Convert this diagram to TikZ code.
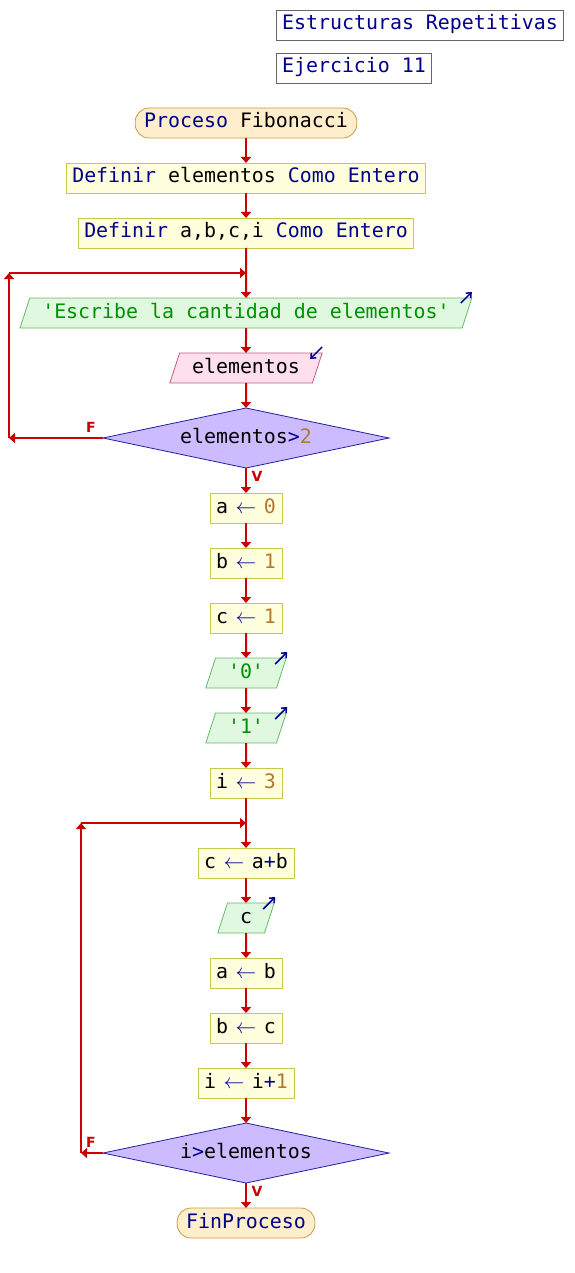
\documentclass[tikz,border=0pt]{standalone}
\usepackage{fontspec}
\setmonofont{DejaVu Sans Mono}
\setsansfont{DejaVu Sans}
\usepackage{xcolor}
\usepackage{tikz}
\usetikzlibrary{shapes.geometric, arrows.meta, positioning, calc}

\definecolor{flowred}{HTML}{CC0000}
\definecolor{kwblue}{HTML}{00008B}
\definecolor{numbrown}{HTML}{B07830}
\definecolor{strgreen}{HTML}{009000}
\definecolor{termfill}{HTML}{FFEECC}
\definecolor{termdraw}{HTML}{CC9944}
\definecolor{asgfill}{HTML}{FFFFDD}
\definecolor{asgdraw}{HTML}{C8C850}
\definecolor{outfill}{HTML}{E0F8E0}
\definecolor{outdraw}{HTML}{66BB66}
\definecolor{infill}{HTML}{FDE0EC}
\definecolor{indraw}{HTML}{C06088}
\definecolor{condfill}{HTML}{CCBBFF}
\definecolor{conddraw}{HTML}{2020A0}
\definecolor{markblue}{HTML}{000090}

\newcommand{\kw}[1]{\textcolor{kwblue}{#1}}
\newcommand{\cnum}[1]{\textcolor{numbrown}{#1}}
\newcommand{\cstr}[1]{\textcolor{strgreen}{#1}}
\newcommand{\asg}{\textcolor{kwblue}{\makebox[0.6em]{$\leftarrow$}}}

\begin{document}
\begin{tikzpicture}[
  x=1pt, y=-1pt,
  node distance = 25pt,
  base/.style   = {font=\fontsize{19.9}{22}\selectfont\ttfamily,
                   text height=15pt, text depth=5pt, inner ysep=5pt,
                   outer sep=0pt, line width=0.8pt},
  term/.style   = {base, rectangle, rounded corners=14pt,
                   draw=termdraw, fill=termfill, inner xsep=9pt},
  assign/.style = {base, rectangle, draw=asgdraw, fill=asgfill, inner xsep=6pt},
  outbox/.style = {base, trapezium, trapezium left angle=72,
                   trapezium right angle=108,
                   draw=outdraw, fill=outfill, inner xsep=12.5pt},
  inbox/.style  = {outbox, draw=indraw, fill=infill},
  cond/.style   = {base, diamond, aspect=4.77, minimum width=286pt,
                   minimum height=60pt, inner sep=0pt,
                   draw=conddraw, fill=condfill},
  title/.style  = {base, rectangle, draw=black!60, fill=white,
                   inner xsep=6pt, text=kwblue},
  flow/.style   = {-{Triangle[length=6pt,width=10pt]}, line width=2pt, flowred},
  iomark/.style = {-{Straight Barb[length=4pt,width=7pt]}, line width=1.5pt, markblue},
  flag/.style   = {font=\fontsize{14}{14}\selectfont\sffamily\bfseries, text=flowred}
]

\path[use as bounding box, fill=white] (0,0) rectangle (574,1273);

%% ---- headers ----
\node[title] (tit1) at (420,25) {Estructuras Repetitivas};
\node[title] (tit2) at (354,68) {Ejercicio 11};

%% ---- declarations ----
\node[term] (start) at (246,123) {\kw{Proceso} Fibonacci};
\node[assign, below=of start] (def1) {\kw{Definir} elementos \kw{Como} \kw{Entero}};
\node[assign, below=of def1]  (def2) {\kw{Definir} a,b,c,i \kw{Como} \kw{Entero}};

%% ---- read loop ----
\node[outbox, below=50pt of def2] (msg) {\cstr{'Escribe la cantidad de elementos'}};
\node[inbox, below=of msg]  (rd)   {elementos};
\node[cond, below=of rd]    (chk1) {elementos\kw{>}\cnum{2}};

%% ---- first terms ----
\node[assign, below=of chk1] (sa) {a \asg{} \cnum{0}};
\node[assign, below=of sa]   (sb) {b \asg{} \cnum{1}};
\node[assign, below=of sb]   (sc) {c \asg{} \cnum{1}};
\node[outbox, below=of sc]   (o0) {\cstr{'0'}};
\node[outbox, below=of o0]   (o1) {\cstr{'1'}};
\node[assign, below=of o1]   (si) {i \asg{} \cnum{3}};

%% ---- main loop ----
\node[assign, below=50pt of si] (cab) {c \asg{} a\kw{+}b};
\node[outbox, below=of cab] (oc)   {c};
\node[assign, below=of oc]  (ab)   {a \asg{} b};
\node[assign, below=of ab]  (bc)   {b \asg{} c};
\node[assign, below=of bc]  (inc)  {i \asg{} i\kw{+}\cnum{1}};
\node[cond, below=of inc]   (chk2) {i\kw{>}elementos};
\node[term, below=of chk2]  (fin)  {\kw{FinProceso}};

%% ---- straight flow ----
\draw[flow] (start) -- (def1);
\draw[flow] (def1) -- (def2);
\draw[flow] (def2) -- (msg);
\draw[flow] (msg) -- (rd);
\draw[flow] (rd) -- (chk1);
\draw[flow] (chk1) -- (sa);
\draw[flow] (sa) -- (sb);
\draw[flow] (sb) -- (sc);
\draw[flow] (sc) -- (o0);
\draw[flow] (o0) -- (o1);
\draw[flow] (o1) -- (si);
\draw[flow] (si) -- (cab);
\draw[flow] (cab) -- (oc);
\draw[flow] (oc) -- (ab);
\draw[flow] (ab) -- (bc);
\draw[flow] (bc) -- (inc);
\draw[flow] (inc) -- (chk2);
\draw[flow] (chk2) -- (fin);

%% ---- back edges ----
\coordinate (j1) at ($(def2.south)!0.5!(msg.north)$);
\coordinate (l1b) at ($(chk1.west)+(-94,0)$);
\coordinate (l1t) at (l1b |- j1);
\draw[flow] (chk1.west) -- (l1b);
\draw[flow] (l1b) -- (l1t);
\draw[flow] (l1t) -- (j1);

\coordinate (j2) at ($(si.south)!0.5!(cab.north)$);
\coordinate (l2b) at ($(chk2.west)+(-22,0)$);
\coordinate (l2t) at (l2b |- j2);
\draw[flow] (chk2.west) -- (l2b);
\draw[flow] (l2b) -- (l2t);
\draw[flow] (l2t) -- (j2);

\node[flag] (f1) at ($(chk1.west)+(-12,-11)$) {F};
\node[flag] (v1) at ($(chk1.south)+(11,8)$) {V};
\node[flag] (f2) at ($(chk2.west)+(-12,-11)$) {F};
\node[flag] (v2) at ($(chk2.south)+(11,8)$) {V};

%% ---- in/out marks ----
\draw[iomark] ([shift={(-11,5)}]msg.top right corner) -- ++(11,-11);
\draw[iomark] ([shift={(0,-6)}]rd.top right corner) -- ++(-12,12);
\draw[iomark] ([shift={(-11,6)}]o0.top right corner) -- ++(12,-12);
\draw[iomark] ([shift={(-11,6)}]o1.top right corner) -- ++(12,-12);
\draw[iomark] ([shift={(-11,6)}]oc.top right corner) -- ++(12,-12);

\end{tikzpicture}
\end{document}
